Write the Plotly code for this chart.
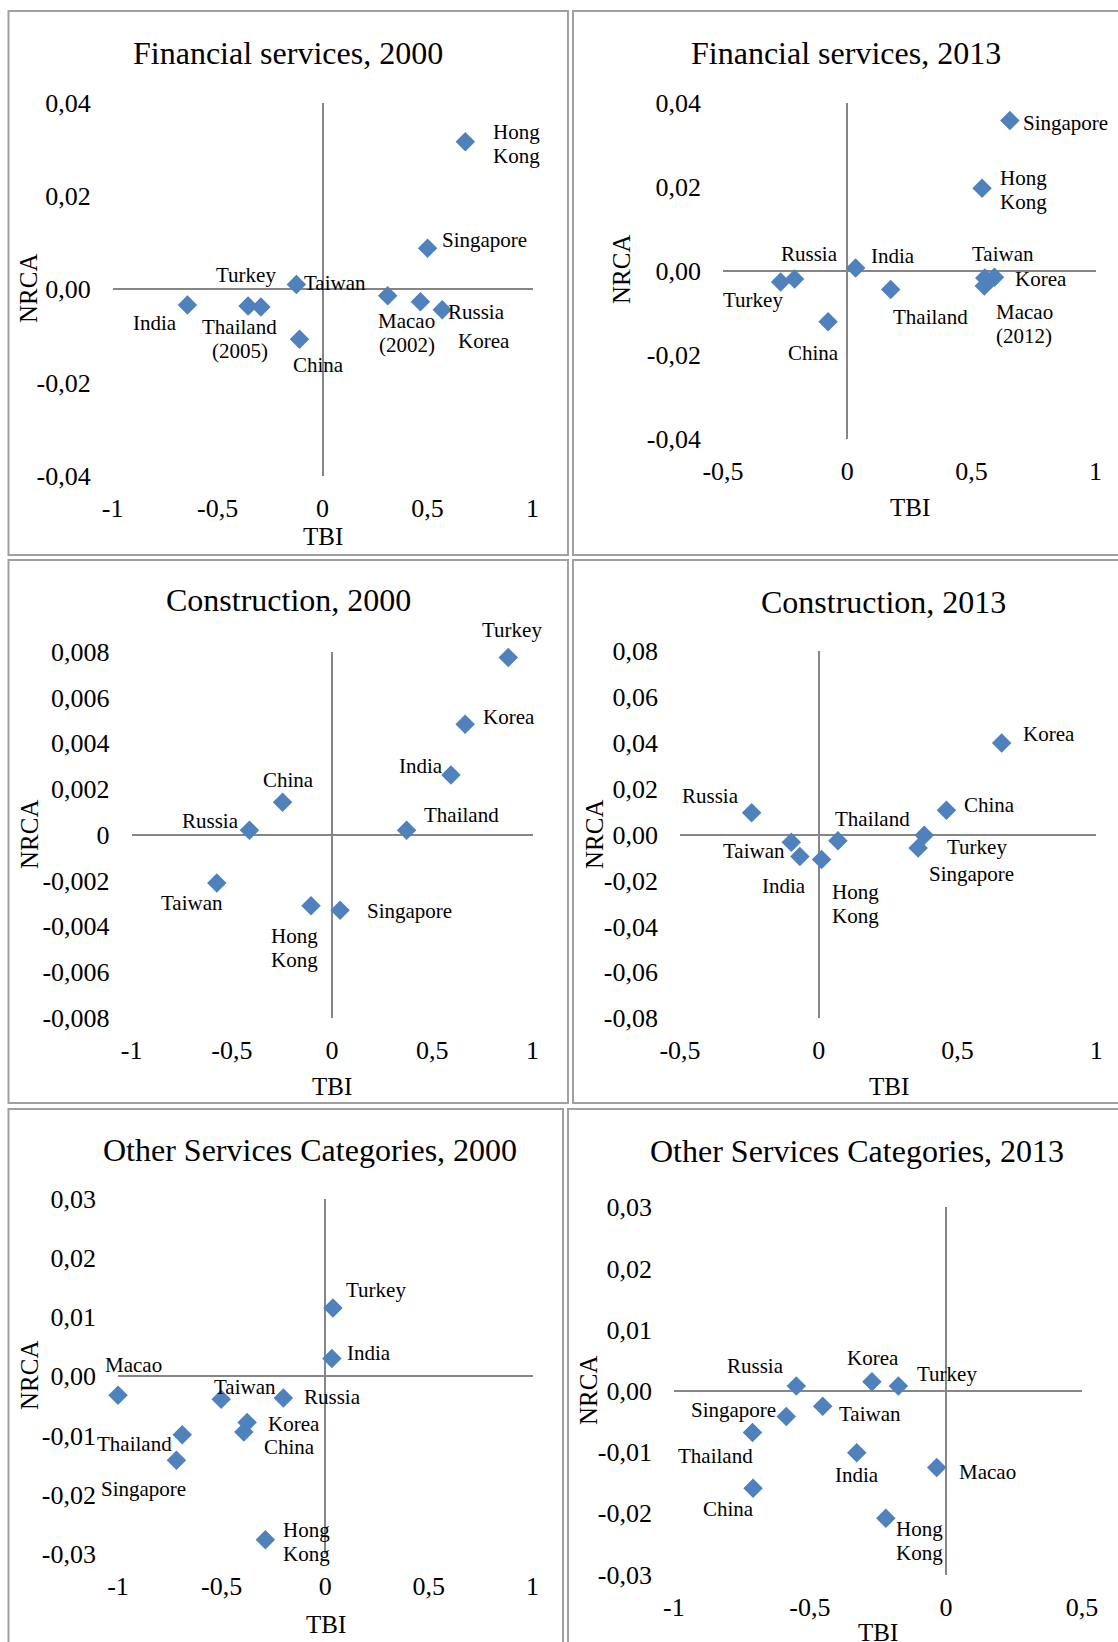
import plotly.graph_objects as go

W, H = 1118, 1642
FONT = "Liberation Serif"

# ---------------- data ----------------
titles = ["Financial services, 2000", "Financial services, 2013",
          "Construction, 2000", "Construction, 2013",
          "Other Services Categories, 2000", "Other Services Categories, 2013"]

# Financial services, 2000
fin00_names = ["Hong\nKong", "Singapore", "Taiwan", "Turkey", "India", "Thailand\n(2005)",
               "China", "Macao\n(2002)", "Russia", "Korea"]
fin00_tbi = [0.68, 0.50, -0.125, -0.355, -0.644, -0.294, -0.11, 0.31, 0.57, 0.466]
fin00_nrca = [0.0316, 0.0088, 0.001, -0.0036, -0.0034, -0.0038, -0.0107, -0.0014, -0.0044, -0.0027]

# Financial services, 2013
fin13_names = ["Singapore", "Hong\nKong", "Russia", "India", "Turkey", "China", "Thailand",
               "Taiwan", "Korea", "Macao\n(2012)"]
fin13_tbi = [0.655, 0.543, -0.212, 0.034, -0.268, -0.077, 0.175, 0.554, 0.593, 0.552]
fin13_nrca = [0.0357, 0.0196, -0.002, 0.0006, -0.0027, -0.0122, -0.0045, -0.0018, -0.0016, -0.0037]

# Construction, 2000
con00_names = ["Turkey", "Korea", "India", "China", "Russia", "Thailand", "Taiwan",
               "Hong\nKong", "Singapore"]
con00_tbi = [0.879, 0.664, 0.593, -0.247, -0.412, 0.372, -0.575, -0.105, 0.04]
con00_nrca = [0.00775, 0.00483, 0.00262, 0.00142, 0.0002, 0.0002, -0.0021, -0.0031, -0.0033]

# Construction, 2013
con13_names = ["Korea", "Russia", "China", "Thailand", "Taiwan", "India", "Hong\nKong",
               "Turkey", "Singapore"]
con13_tbi = [0.659, -0.242, 0.46, 0.069, -0.099, -0.068, 0.01, 0.38, 0.358]
con13_nrca = [0.0399, 0.0095, 0.0106, -0.0027, -0.0033, -0.0095, -0.0108, -0.0003, -0.0058]

# Other Services Categories, 2000
oth00_names = ["Turkey", "India", "Macao", "Taiwan", "Russia", "Korea", "China", "Thailand",
               "Singapore", "Hong\nKong"]
oth00_tbi = [0.037, 0.032, -1.0, -0.502, -0.202, -0.377, -0.393, -0.69, -0.718, -0.289]
oth00_nrca = [0.0115, 0.003, -0.0032, -0.0039, -0.0037, -0.0078, -0.0094, -0.0099, -0.0142, -0.0276]

# Other Services Categories, 2013
oth13_names = ["Russia", "Korea", "Turkey", "Taiwan", "Singapore", "Thailand", "India",
               "Macao", "China", "Hong\nKong"]
oth13_tbi = [-0.55, -0.272, -0.175, -0.453, -0.587, -0.711, -0.328, -0.034, -0.709, -0.221]
oth13_nrca = [0.0008, 0.0015, 0.0008, -0.0025, -0.0042, -0.0068, -0.0101, -0.0125, -0.0159, -0.0208]

# tick values / labels
x_ticks_a = [-1, -0.5, 0, 0.5, 1]
x_labels_a = ["-1", "-0,5", "0", "0,5", "1"]
x_ticks_b = [-0.5, 0, 0.5, 1]
x_labels_b = ["-0,5", "0", "0,5", "1"]
x_ticks_c = [-1, -0.5, 0, 0.5]
x_labels_c = ["-1", "-0,5", "0", "0,5"]

y_ticks_fin = [-0.04, -0.02, 0, 0.02, 0.04]
y_labels_fin = ["-0,04", "-0,02", "0,00", "0,02", "0,04"]
y_ticks_con00 = [-0.008, -0.006, -0.004, -0.002, 0, 0.002, 0.004, 0.006, 0.008]
y_labels_con00 = ["-0,008", "-0,006", "-0,004", "-0,002", "0", "0,002", "0,004", "0,006", "0,008"]
y_ticks_con13 = [-0.08, -0.06, -0.04, -0.02, 0, 0.02, 0.04, 0.06, 0.08]
y_labels_con13 = ["-0,08", "-0,06", "-0,04", "-0,02", "0,00", "0,02", "0,04", "0,06", "0,08"]
y_ticks_oth = [-0.03, -0.02, -0.01, 0, 0.01, 0.02, 0.03]
y_labels_oth = ["-0,03", "-0,02", "-0,01", "0,00", "0,01", "0,02", "0,03"]

# ---------------- layout (pixels) ----------------
# label placement: (anchor, dx, dy) in px relative to the marker
fin00_lab = [("left", 26, 2), ("left", 12, -8), ("left", 6, -2), ("center", -2, -31),
             ("center", -32, 18), ("center", -21, 32), ("center", 19, 26), ("center", 19, 37),
             ("left", 4, 2), ("center", 64, 39)]
fin13_lab = [("left", 11, 2), ("left", 16, 2), ("center", 15, -25), ("left", 13, -12),
             ("center", -28, 18), ("center", -15, 31), ("center", 40, 28), ("center", 18, -24),
             ("left", 18, 2), ("center", 40, 38)]
con00_lab = [("center", 4, -28), ("left", 16, -7), ("center", -30, -9), ("center", 6, -22),
             ("center", -39, -9), ("center", 55, -15), ("center", -25, 20), ("center", -17, 42),
             ("left", 25, 1)]
con13_lab = [("left", 19, -9), ("center", -41, -17), ("left", 16, -5), ("center", 35, -22),
             ("center", -37, 9), ("center", -16, 30), ("left", 8, 45), ("center", 53, 12),
             ("center", 53, 26)]
oth00_lab = [("left", 11, -18), ("left", 13, -5), ("center", 15, -30), ("center", 24, -12),
             ("center", 49, -1), ("left", 19, 2), ("left", 18, 15), ("center", -48, 9),
             ("center", -33, 29), ("left", 16, 2)]
oth13_lab = [("center", -41, -20), ("center", 1, -24), ("left", 17, -12), ("left", 14, 8),
             ("center", -53, -7), ("center", -37, 23), ("center", 0, 22), ("left", 20, 5),
             ("center", -25, 21), ("left", 8, 23)]

panels = [
    dict(names=fin00_names, x=fin00_tbi, y=fin00_nrca, lab=fin00_lab,
         xt=x_ticks_a, xl=x_labels_a, yt=y_ticks_fin, yl=y_labels_fin,
         box=(112.7, 532.5, 102.5, 476), title=(288, 53), tbi=(323, 537), nrca=(29, 289),
         frame=(8.5, 568, 11, 555)),
    dict(names=fin13_names, x=fin13_tbi, y=fin13_nrca, lab=fin13_lab,
         xt=x_ticks_b, xl=x_labels_b, yt=y_ticks_fin, yl=y_labels_fin,
         box=(723, 1095.6, 102.5, 438.6), title=(846, 53), tbi=(910, 508), nrca=(622, 270),
         frame=(573, 1125, 11, 555)),
    dict(names=con00_names, x=con00_tbi, y=con00_nrca, lab=con00_lab,
         xt=x_ticks_a, xl=x_labels_a, yt=y_ticks_con00, yl=y_labels_con00,
         box=(131.6, 532.5, 651.8, 1017.9), title=(288, 600), tbi=(332, 1086), nrca=(29, 835),
         frame=(8.5, 568, 560, 1103)),
    dict(names=con13_names, x=con13_tbi, y=con13_nrca, lab=con13_lab,
         xt=x_ticks_b, xl=x_labels_b, yt=y_ticks_con13, yl=y_labels_con13,
         box=(680, 1096.3, 651, 1018.2), title=(883, 602), tbi=(889, 1086), nrca=(594, 835),
         frame=(573, 1125, 560, 1103)),
    dict(names=oth00_names, x=oth00_tbi, y=oth00_nrca, lab=oth00_lab,
         xt=x_ticks_a, xl=x_labels_a, yt=y_ticks_oth, yl=y_labels_oth,
         box=(118, 532.5, 1198.5, 1553.9), title=(310, 1150), tbi=(326, 1624), nrca=(29, 1376),
         frame=(8.5, 563, 1109, 1660)),
    dict(names=oth13_names, x=oth13_tbi, y=oth13_nrca, lab=oth13_lab,
         xt=x_ticks_c, xl=x_labels_c, yt=y_ticks_oth, yl=y_labels_oth,
         box=(673.9, 1082, 1207.2, 1574.6), title=(857, 1151), tbi=(878, 1632), nrca=(588, 1391),
         frame=(568, 1125, 1109, 1660)),
]

AXIS_GREY = "#868686"
MARKER = "#4F81BD"
TICK_SIZE = 26
LABEL_SIZE = 21
LINE_GAP = 24
TITLE_SIZE = 32
AXTITLE_SIZE = 25

fig = go.Figure()
annotations = []
shapes = []

for i, p in enumerate(panels):
    n = i + 1
    sx = "" if n == 1 else str(n)
    xa, ya = "x" + sx, "y" + sx
    fig.add_trace(go.Scatter(
        x=p["x"], y=p["y"], mode="markers", xaxis=xa, yaxis=ya,
        marker=dict(symbol="diamond", size=15, color=MARKER, line=dict(width=0)),
        cliponaxis=False, showlegend=False, hoverinfo="skip"))
    L, R, T, B = p["box"]
    common = dict(tickmode="array", ticks="", showgrid=False, showline=False,
                  zeroline=True, zerolinecolor=AXIS_GREY, zerolinewidth=1.5,
                  automargin=False, fixedrange=True,
                  tickfont=dict(family=FONT, size=TICK_SIZE, color="black"))
    fig.layout["xaxis" + sx] = dict(
        domain=[L / W, R / W], anchor=ya, range=[min(p["xt"]), max(p["xt"])],
        tickvals=p["xt"], ticktext=p["xl"], ticklabelstandoff=14, **common)
    fig.layout["yaxis" + sx] = dict(
        domain=[1 - B / H, 1 - T / H], anchor=xa, range=[min(p["yt"]), max(p["yt"])],
        tickvals=p["yt"], ticktext=p["yl"], ticklabelstandoff=21, **common)

    for name, xv, yv, (anc, dx, dy) in zip(p["names"], p["x"], p["y"], p["lab"]):
        lines = name.split("\n")
        nl = len(lines)
        for k, line in enumerate(lines):
            ldy = dy + (k - (nl - 1) / 2) * LINE_GAP
            annotations.append(dict(
                x=xv, y=yv, xref=xa, yref=ya, text=line,
                showarrow=False, xanchor=anc, yanchor="middle",
                xshift=dx, yshift=-ldy, font=dict(family=FONT, size=LABEL_SIZE, color="black")))

    tx, ty = p["title"]
    annotations.append(dict(x=tx / W, y=1 - ty / H, xref="paper", yref="paper", text=titles[i],
                            showarrow=False, xanchor="center", yanchor="middle",
                            font=dict(family=FONT, size=TITLE_SIZE, color="black")))
    bx, by = p["tbi"]
    annotations.append(dict(x=bx / W, y=1 - by / H, xref="paper", yref="paper", text="TBI",
                            showarrow=False, xanchor="center", yanchor="middle",
                            font=dict(family=FONT, size=AXTITLE_SIZE, color="black")))
    nx, ny = p["nrca"]
    annotations.append(dict(x=nx / W, y=1 - ny / H, xref="paper", yref="paper", text="NRCA",
                            showarrow=False, xanchor="center", yanchor="middle", textangle=-90,
                            font=dict(family=FONT, size=AXTITLE_SIZE, color="black")))
    fl, fr, ft, fb = p["frame"]
    shapes.append(dict(type="rect", xref="paper", yref="paper",
                       x0=fl / W, x1=fr / W, y0=1 - fb / H, y1=1 - ft / H,
                       line=dict(color="#A0A0A0", width=2), layer="below"))

fig.update_layout(
    template="none",
    width=W, height=H, margin=dict(l=0, r=0, t=0, b=0, pad=0, autoexpand=False),
    paper_bgcolor="white", plot_bgcolor="white",
    annotations=annotations, shapes=shapes, showlegend=False,
    font=dict(family=FONT, color="black"))

fig.write_html("out.html", config={"displayModeBar": False})
